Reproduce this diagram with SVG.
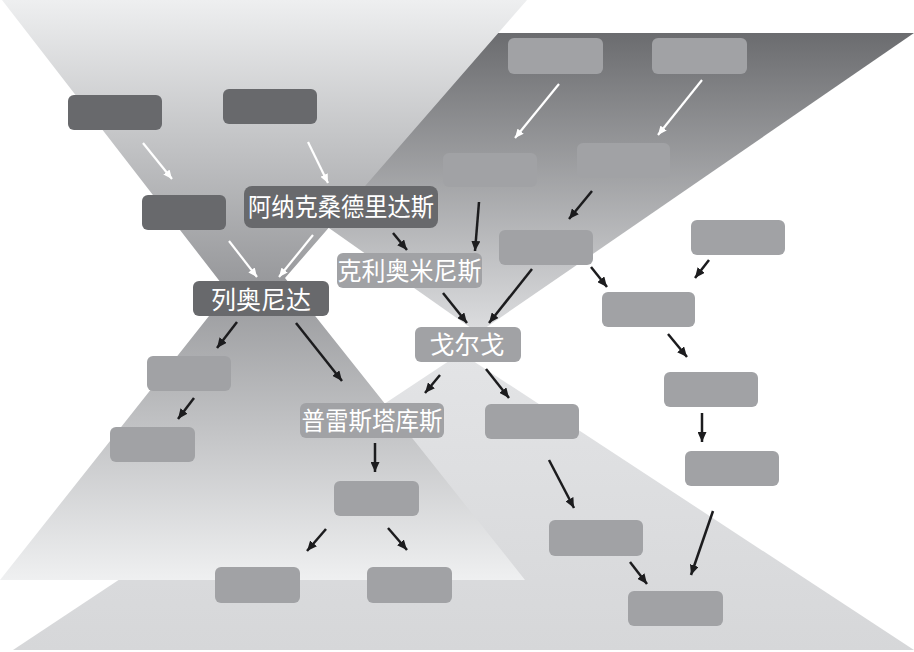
<svg xmlns="http://www.w3.org/2000/svg" width="914" height="652" viewBox="0 0 914 652">
<style>
.dk{fill:#68696c}
.lt{fill:#a1a2a5}
.t{fill:#ffffff;font-family:"Noto Sans CJK SC","Noto Sans",sans-serif;font-size:25px;text-anchor:middle}
.cb{stroke:#1c1c1e;stroke-width:2.5;fill:none}
.cw{stroke:#ffffff;stroke-width:2.2;fill:none}
</style>
<defs>
<linearGradient id="g1" gradientUnits="userSpaceOnUse" x1="0" y1="0" x2="0" y2="580">
<stop offset="0" stop-color="#eeeff0"/><stop offset="0.49" stop-color="#97989b"/><stop offset="1" stop-color="#eff0f1"/>
</linearGradient>
<linearGradient id="g2top" gradientUnits="userSpaceOnUse" x1="0" y1="33" x2="0" y2="333">
<stop offset="0" stop-color="#6b6c6f"/><stop offset="1" stop-color="#dddee0"/>
</linearGradient>
<linearGradient id="g2bot" gradientUnits="userSpaceOnUse" x1="0" y1="353" x2="0" y2="650">
<stop offset="0" stop-color="#e3e4e6"/><stop offset="1" stop-color="#d6d7d9"/>
</linearGradient>
<marker id="ab" viewBox="0 0 10 9" refX="10" refY="4.5" markerWidth="10" markerHeight="9" markerUnits="userSpaceOnUse" orient="auto">
<path d="M0,0 L10,4.5 L0,9 z" fill="#1c1c1e"/>
</marker>
<marker id="aw" viewBox="0 0 10 9" refX="10" refY="4.5" markerWidth="9" markerHeight="8" markerUnits="userSpaceOnUse" orient="auto">
<path d="M0,0 L10,4.5 L0,9 z" fill="#ffffff"/>
</marker>
</defs>
<rect width="914" height="652" fill="#ffffff"/>
<g id="background">
<polygon points="52,33 914,33 478,333" fill="url(#g2top)"/>
<polygon points="461,353 914,650 13,650" fill="url(#g2bot)"/>
<polygon points="2,0 527,0 285,278 525,580 0,580 228,292" fill="url(#g1)"/>
</g>
<g id="connectors">
<line class="cw" x1="143" y1="143" x2="172" y2="179" marker-end="url(#aw)"/>
<line class="cw" x1="308" y1="142" x2="328" y2="183" marker-end="url(#aw)"/>
<line class="cw" x1="229" y1="241" x2="257" y2="277" marker-end="url(#aw)"/>
<line class="cw" x1="313" y1="235" x2="279" y2="277" marker-end="url(#aw)"/>
<line class="cw" x1="559" y1="84" x2="515" y2="138" marker-end="url(#aw)"/>
<line class="cw" x1="702" y1="80" x2="658" y2="135" marker-end="url(#aw)"/>
<line class="cb" x1="393" y1="233" x2="407" y2="250" marker-end="url(#ab)"/>
<line class="cb" x1="479" y1="202" x2="475" y2="251" marker-end="url(#ab)"/>
<line class="cb" x1="592" y1="191" x2="569" y2="219" marker-end="url(#ab)"/>
<line class="cb" x1="443" y1="293" x2="467" y2="323" marker-end="url(#ab)"/>
<line class="cb" x1="532" y1="269" x2="489" y2="323" marker-end="url(#ab)"/>
<line class="cb" x1="591" y1="267" x2="607" y2="287" marker-end="url(#ab)"/>
<line class="cb" x1="709" y1="260" x2="695" y2="278" marker-end="url(#ab)"/>
<line class="cb" x1="237" y1="322" x2="217" y2="348" marker-end="url(#ab)"/>
<line class="cb" x1="296" y1="323" x2="342" y2="381" marker-end="url(#ab)"/>
<line class="cb" x1="194" y1="398" x2="178" y2="419" marker-end="url(#ab)"/>
<line class="cb" x1="440" y1="375" x2="425" y2="393" marker-end="url(#ab)"/>
<line class="cb" x1="486" y1="369" x2="509" y2="398" marker-end="url(#ab)"/>
<line class="cb" x1="375" y1="443" x2="375" y2="472" marker-end="url(#ab)"/>
<line class="cb" x1="326" y1="529" x2="307" y2="551" marker-end="url(#ab)"/>
<line class="cb" x1="388" y1="528" x2="407" y2="550" marker-end="url(#ab)"/>
<line class="cb" x1="668" y1="334" x2="687" y2="357" marker-end="url(#ab)"/>
<line class="cb" x1="702" y1="413" x2="702" y2="442" marker-end="url(#ab)"/>
<line class="cb" x1="549" y1="460" x2="574" y2="508" marker-end="url(#ab)"/>
<line class="cb" x1="630" y1="562" x2="647" y2="584" marker-end="url(#ab)"/>
<line class="cb" x1="713" y1="511" x2="691" y2="575" marker-end="url(#ab)"/>
</g>
<g id="n1"><rect class="dk" x="68" y="95" width="94" height="35" rx="6"/></g>
<g id="n2"><rect class="dk" x="223" y="89" width="94" height="35" rx="6"/></g>
<g id="n3"><rect class="dk" x="142" y="195" width="84" height="35" rx="6"/></g>
<g id="n4"><rect class="dk" x="244" y="186" width="194" height="42" rx="8"/><text class="t" x="341" y="216" textLength="186" lengthAdjust="spacingAndGlyphs">阿纳克桑德里达斯</text></g>
<g id="n5"><rect class="dk" x="193" y="281" width="136" height="35" rx="6"/><text class="t" x="261" y="308.5">列奥尼达</text></g>
<g id="n6"><rect class="lt" x="147" y="356" width="84" height="35" rx="6"/></g>
<g id="n7"><rect class="lt" x="110" y="427" width="85" height="35" rx="6"/></g>
<g id="n8"><rect class="lt" x="300" y="403" width="144" height="35" rx="6"/><text class="t" x="372" y="430" textLength="141" lengthAdjust="spacingAndGlyphs">普雷斯塔库斯</text></g>
<g id="n9"><rect class="lt" x="334" y="481" width="85" height="35" rx="6"/></g>
<g id="n10"><rect class="lt" x="215" y="567" width="85" height="36" rx="6"/></g>
<g id="n11"><rect class="lt" x="367" y="567" width="85" height="36" rx="6"/></g>
<g id="n12"><rect class="lt" x="508" y="38" width="95" height="36" rx="6"/></g>
<g id="n13"><rect class="lt" x="652" y="38" width="95" height="36" rx="6"/></g>
<g id="n14"><rect class="lt" x="443" y="153" width="94" height="34" rx="6"/></g>
<g id="n15"><rect class="lt" x="577" y="143" width="93" height="35" rx="6"/></g>
<g id="n16"><rect class="lt" x="499" y="230" width="94" height="35" rx="6"/></g>
<g id="n17"><rect class="lt" x="691" y="220" width="94" height="35" rx="6"/></g>
<g id="n18"><rect class="lt" x="602" y="292" width="93" height="35" rx="6"/></g>
<g id="n19"><rect class="lt" x="337" y="253" width="145" height="35" rx="6"/><text class="t" x="409.5" y="280" textLength="144" lengthAdjust="spacingAndGlyphs">克利奥米尼斯</text></g>
<g id="n20"><rect class="lt" x="415" y="327" width="106" height="35" rx="6"/><text class="t" x="467" y="354">戈尔戈</text></g>
<g id="n21"><rect class="lt" x="485" y="404" width="94" height="35" rx="6"/></g>
<g id="n22"><rect class="lt" x="664" y="372" width="94" height="35" rx="6"/></g>
<g id="n23"><rect class="lt" x="685" y="451" width="94" height="35" rx="6"/></g>
<g id="n24"><rect class="lt" x="549" y="520" width="94" height="36" rx="6"/></g>
<g id="n25"><rect class="lt" x="628" y="591" width="95" height="35" rx="6"/></g>
</svg>
